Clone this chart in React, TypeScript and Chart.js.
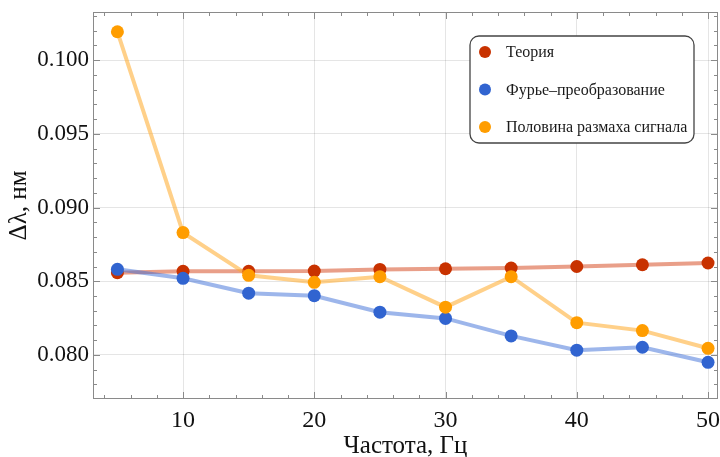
import React, { useEffect, useRef } from "react";
import { Chart, registerables } from "chart.js";

Chart.register(...registerables);

const frequencies = [5, 10, 15, 20, 25, 30, 35, 40, 45, 50];
const theory = [0.08558, 0.08568, 0.08568, 0.08569, 0.08580, 0.08585, 0.08590, 0.08600, 0.08612, 0.08624];
const fourier = [0.08581, 0.08520, 0.08419, 0.08402, 0.08290, 0.08248, 0.08129, 0.08032, 0.08052, 0.07950];
const halfSwing = [0.10193, 0.08830, 0.08540, 0.08493, 0.08531, 0.08324, 0.08531, 0.08219, 0.08165, 0.08045];
const yTicks = [0.08, 0.085, 0.09, 0.095, 0.1];
const xTicks = [10, 20, 30, 40, 50];
const seriesLabels = ["Теория", "Фурье–преобразование", "Половина размаха сигнала"];
const markerColors = ["#c83200", "#3164d0", "#ff9d00"];
const lineColors = ["rgba(215,80,40,0.55)", "rgba(60,110,215,0.5)", "rgba(255,170,40,0.55)"];

const FONT = "'Liberation Serif', 'DejaVu Serif', serif";

const framePlugin = {
  id: "frame",
  beforeDatasetsDraw(chart: any) {
    const { ctx, chartArea } = chart;
    const { left, right, top, bottom } = chartArea;
    const xs = chart.scales.x;
    const ys = chart.scales.y;
    ctx.save();
    ctx.strokeStyle = "#8a8a8a";
    ctx.lineWidth = 1;
    ctx.strokeRect(left + 0.5, top + 0.5, right - left - 1, bottom - top - 1);
    for (let v = 4; v <= 50; v += 2) {
      const px = Math.round(xs.getPixelForValue(v)) + 0.5;
      if (px < left || px > right) continue;
      const len = v % 10 === 0 ? 7 : 4;
      ctx.beginPath();
      ctx.moveTo(px, bottom);
      ctx.lineTo(px, bottom - len);
      ctx.moveTo(px, top);
      ctx.lineTo(px, top + len);
      ctx.stroke();
    }
    for (let i = 77; i <= 103; i += 1) {
      const v = i / 1000;
      const py = Math.round(ys.getPixelForValue(v)) + 0.5;
      if (py < top || py > bottom) continue;
      const len = i % 5 === 0 ? 7 : 4;
      ctx.beginPath();
      ctx.moveTo(left, py);
      ctx.lineTo(left + len, py);
      ctx.moveTo(right, py);
      ctx.lineTo(right - len, py);
      ctx.stroke();
    }
    ctx.restore();
  },
  afterDraw(chart: any) {
    const { ctx, chartArea } = chart;
    const bx = chartArea.right - 248;
    const by = chartArea.top + 24;
    const bw = 224;
    const bh = 107;
    ctx.save();
    ctx.fillStyle = "#ffffff";
    ctx.strokeStyle = "#444444";
    ctx.lineWidth = 1.3;
    ctx.beginPath();
    (ctx as any).roundRect(bx, by, bw, bh, 9);
    ctx.fill();
    ctx.stroke();
    ctx.font = `16px ${FONT}`;
    ctx.textBaseline = "middle";
    ctx.textAlign = "left";
    seriesLabels.forEach((label, i) => {
      const cy = by + 16 + i * 37.5;
      ctx.fillStyle = markerColors[i];
      ctx.beginPath();
      ctx.arc(bx + 15, cy, 6, 0, Math.PI * 2);
      ctx.fill();
      ctx.fillStyle = "#1a1a1a";
      ctx.fillText(label, bx + 36, cy + 1);
    });
    ctx.restore();
  },
};

export default function App() {
  const ref = useRef<HTMLCanvasElement>(null);
  useEffect(() => {
    if (!ref.current) return;
    const series = [theory, fourier, halfSwing];
    const chart = new Chart(ref.current, {
      type: "line",
      data: {
        datasets: series.map((vals, i) => ({
          label: seriesLabels[i],
          data: frequencies.map((f, j) => ({ x: f, y: vals[j] })),
          borderColor: lineColors[i],
          backgroundColor: markerColors[i],
          pointBackgroundColor: markerColors[i],
          pointBorderWidth: 0,
          pointRadius: 6.5,
          borderWidth: 4,
          order: 2 - i,
          clip: false as any,
        })),
      },
      options: {
        responsive: false,
        animation: false,
        layout: { autoPadding: false, padding: { top: 12, right: 2, left: 0, bottom: 0 } },
        plugins: { legend: { display: false }, tooltip: { enabled: false } },
        scales: {
          x: {
            type: "linear",
            min: 3.14,
            max: 50.76,
            afterBuildTicks: (s: any) => {
              s.ticks = xTicks.map((v) => ({ value: v }));
            },
            afterFit: (s: any) => {
              s.height = 58;
              s.paddingLeft = 0;
              s.paddingRight = 0;
            },
            border: { display: false },
            grid: { color: "rgba(0,0,0,0.1)", drawTicks: false },
            ticks: {
              padding: 7,
              color: "#111",
              font: { family: FONT, size: 24 },
              maxRotation: 0,
              callback: (v: any) => String(v),
            },
            title: {
              display: true,
              text: "Частота, Гц",
              color: "#111",
              font: { family: FONT, size: 25 },
              padding: { top: 0, bottom: -4 },
            },
          },
          y: {
            type: "linear",
            min: 0.07701,
            max: 0.10327,
            afterBuildTicks: (s: any) => {
              s.ticks = yTicks.map((v) => ({ value: v }));
            },
            afterFit: (s: any) => {
              s.width = 93;
              s.paddingTop = 0;
              s.paddingBottom = 0;
            },
            border: { display: false },
            grid: { color: "rgba(0,0,0,0.1)", drawTicks: false },
            ticks: {
              padding: 4,
              color: "#111",
              font: { family: FONT, size: 23 },
              callback: (v: any) => Number(v).toFixed(3),
            },
            title: {
              display: true,
              text: "Δλ, нм",
              color: "#111",
              font: { family: FONT, size: 25 },
              padding: { top: 4, bottom: 0 },
            },
          },
        },
      },
      plugins: [framePlugin],
    });
    return () => chart.destroy();
  }, []);
  return (
    <div style={{ position: "fixed", left: 0, top: 0, width: 720, height: 457, background: "#fff" }}>
      <canvas ref={ref} width={720} height={457} />
    </div>
  );
}
